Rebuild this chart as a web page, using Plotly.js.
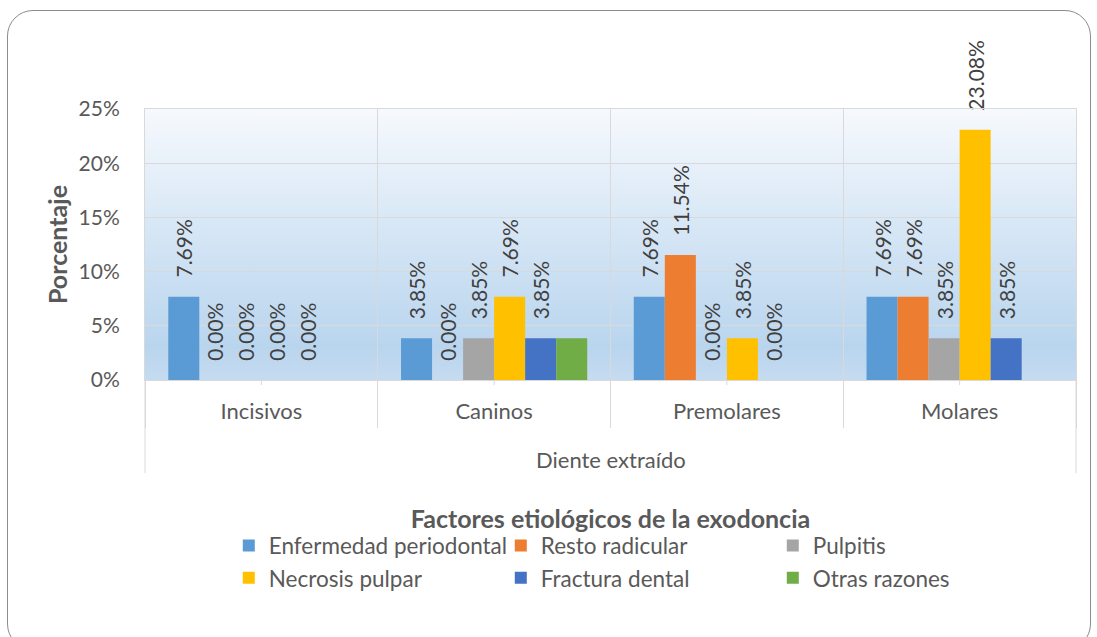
<!DOCTYPE html>
<html>
<head>
<meta charset="utf-8">
<script src="https://cdn.plot.ly/plotly-3.0.1.min.js"></script>
<style>
  html, body { margin: 0; padding: 0; background: #ffffff; }
  #wrap { position: relative; width: 1097px; height: 637px; }
  #chart { position: absolute; left: 0; top: 0; width: 1097px; height: 637px; }
  #frame { position: absolute; left: 7px; top: 10px; width: 1084px; height: 640px;
           border: 1px solid #8c8c8c; border-radius: 26px; pointer-events: none; box-sizing: border-box; }
</style>
</head>
<body>
<div id="wrap">
  <div id="chart"></div>
  <div id="frame"></div>
</div>
<script>
// ---- Data ----
const categories = ["Incisivos", "Caninos", "Premolares", "Molares"];
const seriesNames = ["Enfermedad periodontal", "Resto radicular", "Pulpitis",
                     "Necrosis pulpar", "Fractura dental", "Otras razones"];
const enfermedadPeriodontal = [0.0769, 0.0385, 0.0769, 0.0769];
const restoRadicular        = [0.0000, 0.0000, 0.1154, 0.0769];
const pulpitis              = [0.0000, 0.0385, 0.0000, 0.0385];
const necrosisPulpar        = [0.0000, 0.0769, 0.0385, 0.2308];
const fracturaDental        = [0.0000, 0.0385, 0.0000, 0.0385];
const otrasRazones          = [0.0000, 0.0385, 0.0000, 0.0000];
const yTickValues = [0, 0.05, 0.10, 0.15, 0.20, 0.25];
const yTickLabels = ["0%", "5%", "10%", "15%", "20%", "25%"];
const chartTitle = "Factores etiológicos de la exodoncia";
const xTitle = "Diente extraído";
const yTitle = "Porcentaje";

// ---- Styles ----
const colors = ["#5b9bd5", "#ed7d31", "#a5a5a5", "#ffc000", "#4472c4", "#70ad47"];
const showLabels = [true, true, true, true, true, false];
const FONT = "Lato, 'Open Sans', 'DejaVu Sans', sans-serif";
const values = [enfermedadPeriodontal, restoRadicular, pulpitis, necrosisPulpar, fracturaDental, otrasRazones];

const traces = values.map((v, i) => ({
  type: "bar",
  name: seriesNames[i],
  x: categories,
  y: v,
  marker: { color: colors[i], line: { width: 0 } },
  texttemplate: showLabels[i] ? "\u00a0\u00a0\u00a0%{y:.2%}" : "",
  textposition: showLabels[i] ? "outside" : "none",
  textangle: -90,
  textfont: { family: FONT, size: 21, color: "#404040" },
  constraintext: "none",
  cliponaxis: false,
  hoverinfo: "skip"
}));

const gradSvg = '<svg xmlns="http://www.w3.org/2000/svg" width="100" height="100" preserveAspectRatio="none">' +
  '<defs><linearGradient id="g" x1="0" y1="0" x2="0" y2="1">' +
  '<stop offset="0" stop-color="#f6f9fd"/>' +
  '<stop offset="0.45" stop-color="#d6e6f5"/>' +
  '<stop offset="0.88" stop-color="#b9d5ee"/>' +
  '<stop offset="1" stop-color="#c5dbf0"/>' +
  '</linearGradient></defs><rect width="100" height="100" fill="url(#g)"/></svg>';

const centerTicks = categories.map((c, i) => ({
  type: "line", xref: "x", yref: "paper", ysizemode: "pixel", yanchor: 0,
  x0: i, x1: i, y0: 0, y1: -5, line: { color: "#d9d9d9", width: 1 }, layer: "above"
}));
const edgeLines = [0, 1].map(px => ({
  type: "line", xref: "paper", yref: "paper", ysizemode: "pixel", yanchor: 0,
  x0: px, x1: px, y0: 0, y1: -93, line: { color: "#d9d9d9", width: 1 }
}));

const layout = {
  width: 1097, height: 637,
  margin: { l: 145, r: 21, t: 109, b: 257, pad: 0 },
  paper_bgcolor: "rgba(0,0,0,0)",
  plot_bgcolor: "rgba(0,0,0,0)",
  font: { family: FONT, color: "#595959", size: 21 },
  barmode: "group",
  bargap: 0.2,
  bargroupgap: 0,
  showlegend: true,
  title: {
    text: "<b>" + chartTitle + "</b>",
    font: { family: FONT, size: 25, color: "#595959" },
    x: 0.5565, xanchor: "center", xref: "container",
    y: 1 - 519 / 637, yanchor: "middle", yref: "container"
  },
  xaxis: {
    type: "category",
    tickson: "boundaries",
    ticks: "outside", ticklen: 47, tickcolor: "#d9d9d9", tickwidth: 1,
    ticklabelstandoff: 12,
    showgrid: true, gridcolor: "#d9d9d9", gridwidth: 1,
    showline: true, linecolor: "#d9d9d9", linewidth: 1, mirror: true,
    tickfont: { family: FONT, size: 22, color: "#595959" },
    fixedrange: true
  },
  yaxis: {
    range: [0, 0.25],
    tickvals: yTickValues, ticktext: yTickLabels,
    showgrid: true, gridcolor: "#d9d9d9", gridwidth: 1,
    showline: true, linecolor: "#d9d9d9", mirror: true,
    zeroline: false,
    ticks: "", ticklabelstandoff: 20,
    tickfont: { family: FONT, size: 21, color: "#595959" },
    title: { text: "<b>" + yTitle + "</b>", font: { family: FONT, size: 25, color: "#595959" }, standoff: 3 },
    fixedrange: true
  },
  legend: {
    orientation: "h",
    x: 0.09, xanchor: "left",
    y: -0.533, yanchor: "top",
    entrywidth: 227, entrywidthmode: "pixels",
    itemwidth: 30,
    font: { family: FONT, size: 22.5, color: "#595959" },
    traceorder: "normal",
    bgcolor: "rgba(0,0,0,0)"
  },
  annotations: [{
    text: xTitle, xref: "paper", yref: "paper", x: 0.5, y: 0,
    xanchor: "center", yanchor: "middle", yshift: -79, showarrow: false,
    font: { family: FONT, size: 22, color: "#595959" }
  }],
  shapes: centerTicks.concat(edgeLines),
  images: [{
    source: "data:image/svg+xml;charset=utf-8," + encodeURIComponent(gradSvg),
    xref: "paper", yref: "paper", x: 0, y: 1, sizex: 1, sizey: 1,
    sizing: "stretch", layer: "below", xanchor: "left", yanchor: "top"
  }]
};

Plotly.newPlot("chart", traces, layout, { displayModeBar: false, staticPlot: true });
</script>
</body>
</html>
